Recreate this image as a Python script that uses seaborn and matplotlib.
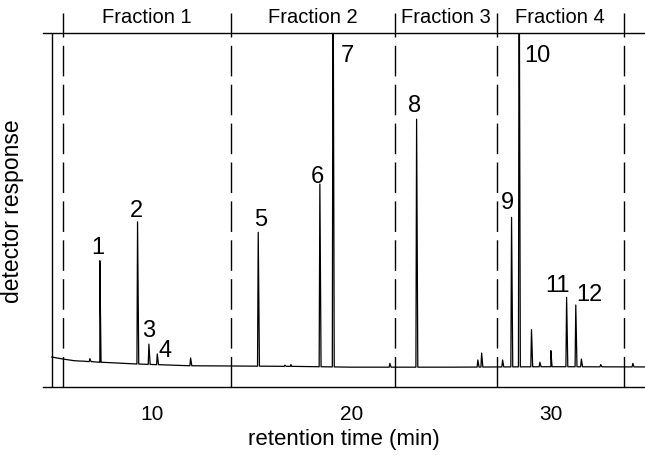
import numpy as np
import pandas as pd
import seaborn as sns
from matplotlib import pyplot as plt

##### Data #####
# baseline level of the trace (retention time, response)
base_t = [4.97, 5.54, 6.1, 7.39, 9.25, 11.9, 17.0, 20.0, 25.0, 30.0, 34.72]
base_y = [0.254, 0.237, 0.223, 0.21, 0.195, 0.18, 0.175, 0.168, 0.168, 0.172, 0.17]

# peak apexes (retention time, response); 7 and 10 go off scale
peak_t = [6.48, 6.89, 7.39, 9.28, 9.85, 10.27, 11.94, 15.33, 16.67, 16.97, 18.42, 19.08,
          21.93, 23.27, 26.34, 26.53, 27.58, 28.03, 28.41, 29.03, 29.45, 30.0, 30.79,
          31.25, 31.53, 32.5, 34.11]
peak_h = [0.22, 0.24, 1.07, 1.40, 0.364, 0.28, 0.246, 1.311, 0.185, 0.19, 1.72, 4.0,
          0.2, 2.27, 0.229, 0.288, 0.229, 1.438, 4.0, 0.486, 0.21, 0.308, 0.76,
          0.695, 0.237, 0.19, 0.2]

# numbered compounds: label, x, y (text baseline)
label_txt = ['1', '2', '3', '4', '5', '6', '7', '8', '9', '10', '11', '12']
label_x = [7.29, 9.2, 9.85, 10.65, 15.46, 18.31, 19.82, 23.18, 27.84, 29.3, 30.32, 31.95]
label_y = [1.136, 1.453, 0.432, 0.263, 1.373, 1.74, 2.765, 2.34, 1.517, 2.763, 0.816, 0.74]

# fraction cut points
frac_bounds = [5.54, 13.96, 22.18, 27.29, 33.66]
frac_names = ['Fraction 1', 'Fraction 2', 'Fraction 3', 'Fraction 4']

# x ticks
xticks = [10, 20, 30]
xtick_labels = ['10', '20', '30']

##### Build trace #####
pts = list(zip(base_t, base_y))
for t, h in zip(peak_t, peak_h):
    foot = np.interp(t, base_t, base_y)
    pts += [(t - 0.035, foot), (t, h), (t + 0.06, foot)]
trace = pd.DataFrame(sorted(pts), columns=['time', 'response'])

##### Plot #####
sns.set_style('white')
plt.rcParams['font.family'] = ['Liberation Sans', 'DejaVu Sans']
plt.rcParams['text.color'] = 'black'
plt.rcParams['axes.labelcolor'] = 'black'
plt.rcParams['xtick.color'] = 'black'
plt.rcParams['ytick.color'] = 'black'

fig = plt.figure(figsize=(6.45, 4.56), dpi=100)
ax = fig.add_axes([43 / 645, 1 - 388 / 456, (645 - 43) / 645, (388 - 34) / 456])

sns.lineplot(data=trace, x='time', y='response', color='black', lw=0.9,
             estimator=None, sort=False, ax=ax)

# y axis line sits at the injection point
ax.axvline(base_t[0], color='black', lw=1)

# fraction boundaries
ax.vlines(frac_bounds, 0, 3.17, colors='black', linestyles=(0, (22, 6)), lw=1, clip_on=False)
for i, name in enumerate(frac_names):
    mid = (frac_bounds[i] + frac_bounds[i + 1]) / 2
    ax.text(mid, 3.093, name, ha='center', va='baseline', fontsize=14.5)

for txt, x, y in zip(label_txt, label_x, label_y):
    ax.text(x, y, txt, ha='center', va='baseline', fontsize=17)

ax.set_xlim(4.54, 34.72)
ax.set_ylim(0, 3)
ax.set_xticks(xticks)
ax.set_xticklabels(xtick_labels, fontsize=15)
ax.set_yticks([1, 2])
ax.tick_params(axis='x', direction='out', length=2.5, width=0.8, pad=10)
ax.tick_params(axis='y', direction='in', length=5.8, width=0.8, labelleft=False)
for side in ['left', 'right']:
    ax.spines[side].set_visible(False)
for side in ['top', 'bottom']:
    ax.spines[side].set_color('black')
    ax.spines[side].set_linewidth(1)

ax.set_xlabel('retention time (min)', fontsize=16, labelpad=3)
ax.set_ylabel('detector response', fontsize=16.5, labelpad=14)

fig.savefig('out.png', dpi=100)
